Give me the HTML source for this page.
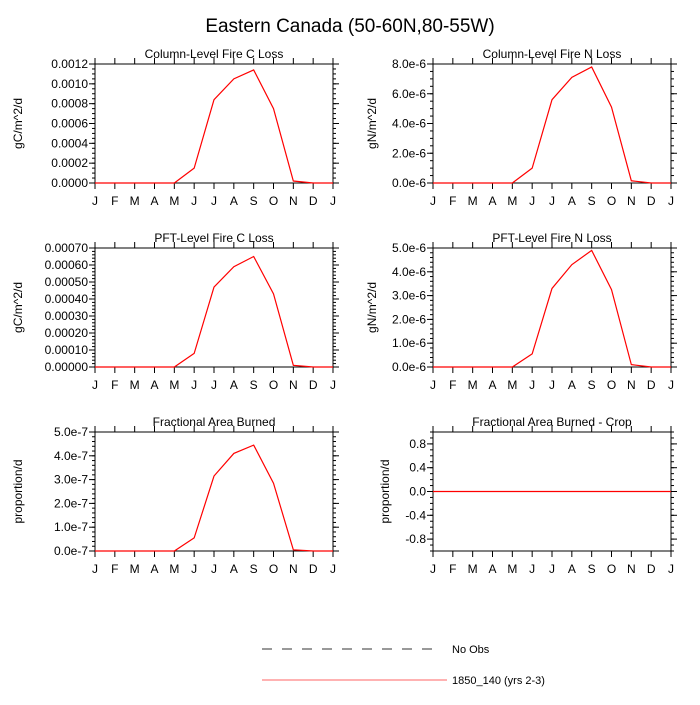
<!DOCTYPE html>
<html><head><meta charset="utf-8"><style>
body{margin:0;background:#fff;}
svg text{font-family:"Liberation Sans",sans-serif;fill:#000;}
</style></head><body>
<svg id="c" width="700" height="700" xmlns="http://www.w3.org/2000/svg">
<text x="350" y="32" font-size="19" text-anchor="middle">Eastern Canada (50-60N,80-55W)</text>
<g>
<line x1="262" y1="649" x2="442" y2="649" stroke="#333" stroke-dasharray="10,10"/>
<text x="452" y="653" font-size="11">No Obs</text>
<line x1="262" y1="680" x2="447" y2="680" stroke="#f66"/>
<text x="452" y="684" font-size="11">1850_140 (yrs 2-3)</text>
</g>
</svg>
<script>
const months=["J","F","M","A","M","J","J","A","S","O","N","D","J"];
const colC=[0,0,0,0,0,0.00015,0.00084,0.00105,0.00114,0.00075,0.00002,0,0];
const colN=[0,0,0,0,0,1.0e-6,5.6e-6,7.1e-6,7.8e-6,5.1e-6,0.15e-6,0,0];
const pftC=[0,0,0,0,0,0.00008,0.00047,0.00059,0.00065,0.00043,0.00001,0,0];
const pftN=[0,0,0,0,0,0.55e-6,3.3e-6,4.3e-6,4.9e-6,3.25e-6,0.1e-6,0,0];
const fab=[0,0,0,0,0,0.55e-7,3.15e-7,4.1e-7,4.45e-7,2.85e-7,0.05e-7,0,0];
const fabCrop=[0,0,0,0,0,0,0,0,0,0,0,0,0];
const ticksColC=["0.0000","0.0002","0.0004","0.0006","0.0008","0.0010","0.0012"];
const ticksColN=["0.0e-6","2.0e-6","4.0e-6","6.0e-6","8.0e-6"];
const ticksPftC=["0.00000","0.00010","0.00020","0.00030","0.00040","0.00050","0.00060","0.00070"];
const ticksPftN=["0.0e-6","1.0e-6","2.0e-6","3.0e-6","4.0e-6","5.0e-6"];
const ticksFab=["0.0e-7","1.0e-7","2.0e-7","3.0e-7","4.0e-7","5.0e-7"];
const ticksCrop=["-0.8","-0.4","0.0","0.4","0.8"];

const svg=document.getElementById('c');
const NS="http://www.w3.org/2000/svg";
function mk(tag,attrs,parent){const e=document.createElementNS(NS,tag);for(const k in attrs)e.setAttribute(k,attrs[k]);parent.appendChild(e);return e;}

function panel(name,title,ylab,ylx,x0,y0,data,ymin,ymax,tickVals,tickLabels,minorStep){
  const w=238,h=119;
  const g=mk('g',{},svg);
  
  
  const xs=i=>x0+i*w/12;
  const ys=v=>y0+h-(v-ymin)/(ymax-ymin)*h;
  const t=mk('text',{x:x0+w/2,y:y0-6,'font-size':12,'text-anchor':'middle'},g);t.textContent=title;
  
  
  const yl=mk('text',{x:0,y:0,'font-size':12,'text-anchor':'middle',transform:`translate(${ylx},${y0+h/2}) rotate(-90)`},g);yl.textContent=ylab;
  
  
  for(let v=ymin;v<=ymax+1e-15;v+=minorStep){const y=ys(v);
    mk('line',{x1:x0-3,y1:y,x2:x0,y2:y,stroke:'#000'},g);
    mk('line',{x1:x0+w,y1:y,x2:x0+w+3,y2:y,stroke:'#000'},g);}
  tickVals.forEach((v,i)=>{const y=ys(v);
    mk('line',{x1:x0-6,y1:y,x2:x0,y2:y,stroke:'#000'},g);
    mk('line',{x1:x0+w,y1:y,x2:x0+w+6,y2:y,stroke:'#000'},g);
    const tl=mk('text',{x:x0-7,y:y+4,'font-size':12,'text-anchor':'end'},g);tl.textContent=tickLabels[i];
    
    });
  months.forEach((m,i)=>{const x=xs(i);
    mk('line',{x1:x,y1:y0+h,x2:x,y2:y0+h+6,stroke:'#000'},g);
    mk('line',{x1:x,y1:y0-6,x2:x,y2:y0,stroke:'#000'},g);
    const tl=mk('text',{x:x,y:y0+h+22,'font-size':12,'text-anchor':'middle'},g);tl.textContent=m;
    
    });
  const r=mk('rect',{x:x0,y:y0,width:w,height:h,fill:'none',stroke:'#000'},g);
  
  
  const pl=mk('polyline',{points:data.map((v,i)=>xs(i)+','+ys(v)).join(' '),fill:'none',stroke:'#f00','stroke-width':1.2},g);
  
  
}
const num=a=>a.map(parseFloat);
panel('panel-column-c','Column-Level Fire C Loss','gC/m^2/d',22,95,64,colC,0,0.0012,num(ticksColC),ticksColC,0.00005);
panel('panel-column-n','Column-Level Fire N Loss','gN/m^2/d',376,433,64,colN,0,8e-6,num(ticksColN),ticksColN,0.5e-6);
panel('panel-pft-c','PFT-Level Fire C Loss','gC/m^2/d',22,95,248,pftC,0,0.0007,num(ticksPftC),ticksPftC,0.00002);
panel('panel-pft-n','PFT-Level Fire N Loss','gN/m^2/d',376,433,248,pftN,0,5e-6,num(ticksPftN),ticksPftN,0.2e-6);
panel('panel-frac-area','Fractional Area Burned','proportion/d',22,95,432,fab,0,5e-7,num(ticksFab),ticksFab,0.2e-7);
panel('panel-frac-area-crop','Fractional Area Burned - Crop','proportion/d',389,433,432,fabCrop,-1,1,num(ticksCrop),ticksCrop,0.1);
</script>
</body></html>
